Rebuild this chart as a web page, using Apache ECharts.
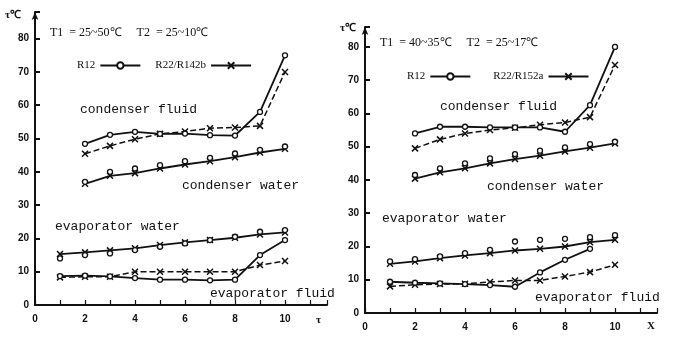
<!DOCTYPE html>
<html>
<head>
<meta charset="utf-8">
<script src="https://cdn.jsdelivr.net/npm/echarts@6/dist/echarts.min.js"></script>
<style>
  html, body { margin: 0; padding: 0; background: #fff; }
  #chart { width: 677px; height: 344px; }
</style>
</head>
<body>
<div id="chart"></div>
<script>
// x positions (number of tests)
var xs = [1, 2, 3, 4, 5, 6, 7, 8, 9, 10];

// left panel  T1 = 25~50, T2 = 25~10
var cfR12L = [null, 48.4, 51.1, 52, 51.4, 51.5, 51, 50.9, 58, 75];
var cfR22L = [null, 45.4, 47.8, 49.8, 51.4, 52.1, 53.1, 53.3, 53.8, 70];
var cwR12L = [null, 37, 40, 41, 42, 43.2, 44.2, 45.5, 46.6, 47.6];
var cwR22L = [null, 36.4, 38.8, 39.6, 41, 42.2, 43.2, 44.4, 45.8, 46.9];
var ewR12L = [14, 15, 15.5, 16.5, 17.5, 18.5, 19.5, 20.5, 22, 22.5];
var ewR22L = [15.3, 15.8, 16.4, 17, 18, 18.8, 19.5, 20.2, 21.2, 21.8];
var efR12L = [8.7, 8.8, 8.6, 8.1, 7.6, 7.6, 7.4, 7.6, 15, 19.5];
var efR22L = [8.3, 8.5, 8.5, 10, 10, 10, 10, 10, 12, 13.2];

// right panel  T1 = 40~35, T2 = 25~17
var cfR12R = [null, 54, 56, 56, 55.8, 55.8, 55.8, 54.5, 62.5, 80];
var cfR22R = [null, 49.5, 52.2, 54, 55, 55.7, 56.6, 57.3, 58.9, 74.6];
var cwR12R = [null, 41.5, 43.5, 45, 46.5, 47.8, 48.8, 49.8, 50.8, 51.5];
var cwR22R = [null, 40.4, 42.3, 43.5, 45, 46.3, 47.3, 48.6, 49.7, 51];
var ewR12R = [15.5, 16.2, 17, 18, 19, 21.5, 22, 22.3, 22.8, 23.4];
var ewR22R = [14.8, 15.5, 16.5, 17.3, 18, 18.8, 19.3, 20, 21.3, 22];
var efR12R = [9.4, 9.1, 8.9, 8.7, 8.4, 7.9, 12.2, 16, 19.3, null];
var efR22R = [8, 8.5, 8.7, 8.8, 9.3, 9.8, 9.8, 11, 12.3, 14.5];

var xTicks = [0, 2, 4, 6, 8, 10];
var yTicks = [0, 10, 20, 30, 40, 50, 60, 70, 80];

var ink = '#111';
var crossSym = 'path://M0,0L10,10M10,0L0,10';

function pairs(vals) {
  var out = [];
  for (var i = 0; i < xs.length; i++) {
    if (vals[i] != null) out.push([xs[i], vals[i]]);
  }
  return out;
}

function r12(vals, idx, noLine) {
  return {
    name: 'R12', type: 'line', xAxisIndex: idx, yAxisIndex: idx,
    data: pairs(vals), symbol: 'circle', symbolSize: 5,
    itemStyle: { color: '#fff', borderColor: ink, borderWidth: 1.3 },
    lineStyle: { color: ink, width: noLine ? 0 : 1.8 },
    z: 3
  };
}
function r22(vals, idx, name, dashed) {
  return {
    name: name, type: 'line', xAxisIndex: idx, yAxisIndex: idx,
    data: pairs(vals), symbol: crossSym, symbolSize: 6,
    itemStyle: { color: '#fff', borderColor: ink, borderWidth: 1.5 },
    lineStyle: { color: ink, width: dashed ? 1.5 : 1.8, type: dashed ? [6, 3] : 'solid' },
    z: 2
  };
}

function xAx(idx, max) {
  return {
    gridIndex: idx, type: 'value', min: 0, max: max, interval: 1,
    axisLine: { lineStyle: { color: ink, width: 2 } },
    axisTick: { inside: true, length: 5, lineStyle: { color: ink, width: 1.2 } },
    axisLabel: {
      margin: 9, color: ink, fontFamily: 'Liberation Sans', fontWeight: 'bold', fontSize: 10,
      formatter: function (v) { return xTicks.indexOf(v) >= 0 ? String(v) : ''; }
    },
    splitLine: { show: false }
  };
}
function yAx(idx, max) {
  return {
    gridIndex: idx, type: 'value', min: 0, max: max, interval: 10,
    axisLine: { show: true, symbol: ['none', 'arrow'], symbolSize: [5, 8], lineStyle: { color: ink, width: 2 } },
    axisTick: { show: true, inside: true, length: 5, lineStyle: { color: ink, width: 2 } },
    axisLabel: {
      margin: 6, color: ink, fontFamily: 'Liberation Sans', fontWeight: 'bold', fontSize: 10,
      formatter: function (v) { return yTicks.indexOf(v) >= 0 ? String(v) : ''; }
    },
    splitLine: { show: false }
  };
}

function txt(x, y, s, font) {
  return { type: 'text', x: x, y: y, style: { text: s, fill: ink, font: font, textVerticalAlign: 'middle' } };
}
var mono = '13px "Liberation Mono"';
var serif = '12px "Liberation Serif"';
var legendText = { fontFamily: 'Liberation Serif', fontSize: 11, color: ink };

var chart = echarts.init(document.getElementById('chart'));
chart.setOption({
  animation: false,
  backgroundColor: '#fff',
  grid: [
    { left: 35, top: 12, width: 292, height: 293 },
    { left: 365, top: 27, width: 292, height: 286 }
  ],
  xAxis: [xAx(0, 11.68), xAx(1, 11.68)],
  yAxis: [yAx(0, 88), yAx(1, 86)],
  legend: [
    { data: ['R12', 'R22/R142b'], left: 72, top: 55, align: 'right', itemWidth: 40, itemHeight: 8, itemGap: 14,
      lineStyle: { type: 'solid' }, textStyle: legendText, selectedMode: false },
    { data: ['R12', 'R22/R152a'], left: 402, top: 66, align: 'right', itemWidth: 40, itemHeight: 8, itemGap: 22,
      lineStyle: { type: 'solid' }, textStyle: legendText, selectedMode: false }
  ],
  series: [
    r12(cfR12L, 0), r22(cfR22L, 0, 'R22/R142b', true),
    r12(cwR12L, 0, true), r22(cwR22L, 0, 'R22/R142b', false),
    r12(ewR12L, 0, true), r22(ewR22L, 0, 'R22/R142b', false),
    r12(efR12L, 0), r22(efR22L, 0, 'R22/R142b', true),
    r12(cfR12R, 1), r22(cfR22R, 1, 'R22/R152a', true),
    r12(cwR12R, 1, true), r22(cwR22R, 1, 'R22/R152a', false),
    r12(ewR12R, 1, true), r22(ewR22R, 1, 'R22/R152a', false),
    r12(efR12R, 1), r22(efR22R, 1, 'R22/R152a', true)
  ],
  graphic: [
    txt(5, 15, 'τ℃', 'bold 11px "Liberation Serif"'),
    txt(340, 28, 'τ℃', 'bold 11px "Liberation Serif"'),
    txt(316, 320, 'τ', 'bold 11px "Liberation Serif"'),
    txt(647, 326, 'X', 'bold 11px "Liberation Serif"'),
    txt(50, 33, 'T1  = 25~50℃     T2  = 25~10℃', serif),
    txt(380, 43, 'T1  = 40~35℃     T2  = 25~17℃', serif),
    txt(80, 110, 'condenser fluid', mono),
    txt(182, 186, 'condenser water', mono),
    txt(55, 227, 'evaporator water', mono),
    txt(210, 294, 'evaporator fluid', mono),
    txt(440, 107, 'condenser fluid', mono),
    txt(487, 187, 'condenser water', mono),
    txt(382, 219, 'evaporator water', mono),
    txt(535, 298, 'evaporator fluid', mono)
  ]
});
</script>
</body>
</html>
